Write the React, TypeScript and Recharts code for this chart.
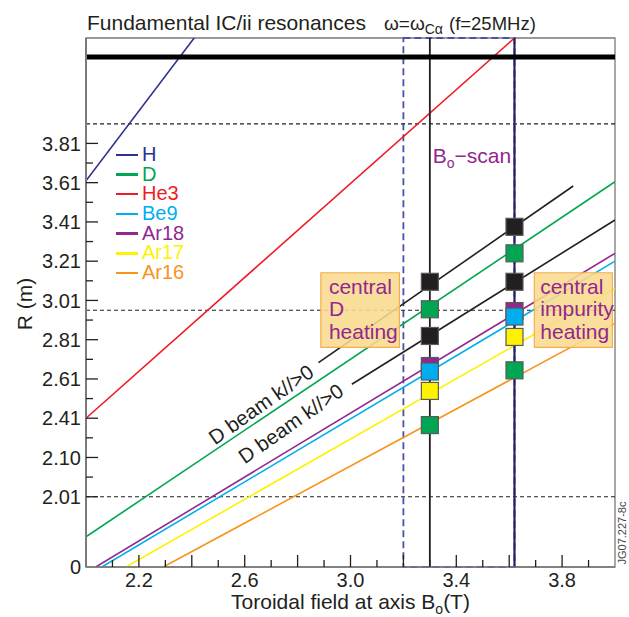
import React from 'react';
import {
  ComposedChart, Line, Scatter, XAxis, YAxis,
  ReferenceLine, ReferenceArea, ReferenceDot, Legend,
} from 'recharts';

const FONT = '"Liberation Sans", Arial, Helvetica, sans-serif';
const INK = '#231f20';
const PURPLE = '#92278f';
const FRAME = '#7a7a7a';

// ---- axes ----
const xDomain = [2.0, 4.0];
const yDomain = [1.642, 4.337];
const xMinorTicks = [2.1, 2.3, 2.5, 2.7, 2.9, 3.1, 3.3, 3.5, 3.7, 3.9];
const xMajorTicks = [2.2, 2.4, 2.6, 2.8, 3.0, 3.2, 3.4, 3.6, 3.8];
const xLabelTicks = [2.2, 2.6, 3.0, 3.4, 3.8];
const xTickLabels = ['2.2', '2.6', '3.0', '3.4', '3.8'];
const yMajorTicks = [1.642, 2.0, 2.2, 2.4, 2.6, 2.8, 3.0, 3.2, 3.4, 3.6, 3.8];
const yTickLabels = ['0', '2.01', '2.10', '2.41', '2.61', '2.81', '3.01', '3.21', '3.41', '3.61', '3.81'];
const yMinorTicks = [2.1, 2.3, 2.5, 2.7, 2.9, 3.1, 3.3, 3.5, 3.7];

// ---- resonance lines: B0 (T) -> R (m) ----
const lineH = [{ x: 2.0, y: 3.61 }, { x: 2.45, y: 4.41 }];
const lineD = [{ x: 2.0, y: 1.796 }, { x: 4.0, y: 3.605 }];
const lineHe3 = [{ x: 2.0, y: 2.4 }, { x: 3.62, y: 4.337 }];
const lineBe9 = [{ x: 2.06, y: 1.642 }, { x: 4.0, y: 3.2 }];
const lineAr18 = [{ x: 2.037, y: 1.642 }, { x: 4.0, y: 3.24 }];
const lineAr17 = [{ x: 2.151, y: 1.642 }, { x: 4.0, y: 3.062 }];
const lineAr16 = [{ x: 2.292, y: 1.642 }, { x: 4.0, y: 2.883 }];
const beamUpper = [{ x: 2.879, y: 2.683 }, { x: 3.842, y: 3.583 }];
const beamLower = [{ x: 3.005, y: 2.573 }, { x: 4.0, y: 3.41 }];

const speciesNames = ['H', 'D', 'He3', 'Be9', 'Ar18', 'Ar17', 'Ar16'];
const speciesColors = ['#2e3192', '#00a651', '#ed1c24', '#00aeef', '#92278f', '#fff200', '#f7941d'];
const speciesLines = [lineH, lineD, lineHe3, lineBe9, lineAr18, lineAr17, lineAr16];

// ---- B0-scan squares ----
const scanB = [3.3, 3.62];
const sqBlackUpper = [3.095, 3.375];
const sqGreenD = [2.955, 3.24];
const sqBlackLower = [2.819, 3.095];
const sqPurple = [2.666, 2.946];
const sqCyan = [2.638, 2.918];
const sqYellow = [2.539, 2.814];
const sqGreenLow = [2.365, 2.644];
const squareSets = [sqBlackUpper, sqGreenD, sqBlackLower, sqPurple, sqCyan, sqYellow, sqGreenLow];
const squareColors = ['#231f20', '#00a651', '#231f20', '#92278f', '#00aeef', '#fff200', '#00a651'];

// ---- reference geometry ----
const dashedR = [2.0, 2.95, 3.9];
const wallR = 4.24;
const scanStart = 3.2;
const scanMid = 3.3;
const scanEnd = 3.62;
const boxY = [2.761, 3.141];
const boxCentralD = [2.888, 3.185];
const boxImpurity = [3.695, 3.99];
const boxDText = ['central', 'D', 'heating'];
const boxImpText = ['central', 'impurity', 'heating'];
const scanLabelPos = { x: 3.311, y: 3.7 };
const beamLabelUpper = { x: 2.661, y: 2.471 };
const beamLabelLower = { x: 2.774, y: 2.374 };

const near = (a: number, b: number) => Math.abs(a - b) < 1e-6;

const XTick = (props: any) => {
  const { x, y, payload } = props;
  const v = payload.value;
  const major = xMajorTicks.some((t) => near(t, v));
  const li = xLabelTicks.findIndex((t) => near(t, v));
  return (
    <g>
      <line x1={x} x2={x} y1={y} y2={y - (major ? 12 : 7)} stroke={INK} strokeWidth={1.3} />
      {li >= 0 && (
        <text x={x} y={y + 20} textAnchor="middle" fontSize={20} fontFamily={FONT} fill={INK}>
          {xTickLabels[li]}
        </text>
      )}
    </g>
  );
};

const YTick = (props: any) => {
  const { x, y, payload } = props;
  const v = payload.value;
  const mi = yMajorTicks.findIndex((t) => near(t, v));
  const bottom = near(v, yDomain[0]);
  const len = mi >= 0 ? 12 : 7;
  return (
    <g>
      {!bottom && <line x1={x} x2={x + len} y1={y} y2={y} stroke={INK} strokeWidth={1.3} />}
      {mi >= 0 && (
        <text x={x - 5} y={y} dy="0.36em" textAnchor="end" fontSize={20} fontFamily={FONT} fill={INK}>
          {yTickLabels[mi]}
        </text>
      )}
    </g>
  );
};

const SquareShape = (props: any) => {
  const { cx, cy, fill } = props;
  if (cx == null || cy == null) return null;
  return <rect x={cx - 8.5} y={cy - 8.5} width={17} height={17} fill={fill} stroke="#5a5a5a" strokeWidth={1.2} />;
};

const boxLabel = (lines: string[], pad: number) => (p: any) => {
  const vb = p.viewBox || {};
  return (
    <g>
      {lines.map((t, i) => (
        <text key={i} x={vb.x + pad} y={vb.y + 21.5 + i * 22.2} fontSize={21} fontFamily={FONT} fill={PURPLE}>
          {t}
        </text>
      ))}
    </g>
  );
};

const beamLabel = (p: any) => {
  const vb = p.viewBox || {};
  const cx = vb.x + (vb.width || 0) / 2;
  const cy = vb.y + (vb.height || 0) / 2;
  return (
    <text x={cx} y={cy} dy="0.36em" textAnchor="middle" fontSize={20.5} fontFamily={FONT} fill={INK}
      transform={`rotate(-35, ${cx}, ${cy})`}>
      {'D beam k//>0'}
    </text>
  );
};

const scanLabel = (p: any) => {
  const vb = p.viewBox || {};
  return (
    <text x={vb.x} y={vb.y} fontSize={21} fontFamily={FONT} fill={PURPLE}>
      B<tspan fontSize={14} dy={5}>o</tspan><tspan dy={-5}>{'\u2212scan'}</tspan>
    </text>
  );
};

const yAxisLabel = (p: any) => {
  const vb = p.viewBox || {};
  const cx = vb.x + 24;
  const cy = vb.y + vb.height / 2 + 1.5;
  return (
    <text x={cx} y={cy} dy="0.36em" textAnchor="middle" fontSize={21} fontFamily={FONT} fill={INK}
      transform={`rotate(-90, ${cx}, ${cy})`}>
      R (m)
    </text>
  );
};

const xAxisLabel = (p: any) => {
  const vb = p.viewBox || {};
  return (
    <text x={vb.x + vb.width / 2} y={vb.y + 42} textAnchor="middle" fontSize={21} fontFamily={FONT} fill={INK}>
      Toroidal field at axis B<tspan fontSize={14} dy={5}>o</tspan><tspan dy={-5}>(T)</tspan>
    </text>
  );
};

const LegendBox = () => (
  <div style={{ fontFamily: FONT, fontSize: 20 }}>
    {speciesNames.map((n, i) => (
      <div key={n} style={{ display: 'flex', alignItems: 'center', height: 19.7, lineHeight: '19.7px', whiteSpace: 'nowrap' }}>
        <span style={{ display: 'inline-block', width: 22, height: 2.5, background: speciesColors[i], marginRight: 4 }} />
        <span style={{ color: speciesColors[i] }}>{n}</span>
      </div>
    ))}
  </div>
);

export default function App() {
  return (
    <div style={{ position: 'absolute', left: 0, top: 0, width: 629, height: 617, background: '#fff' }}>
      <ComposedChart width={629} height={617} margin={{ top: 38, right: 14, left: 0, bottom: 0 }}>
        <XAxis
          type="number" dataKey="x" domain={xDomain} allowDataOverflow
          ticks={[...xMinorTicks, ...xMajorTicks]} interval={0}
          tickSize={0} tickMargin={0} tickLine={false} tick={<XTick />}
          axisLine={{ stroke: FRAME, strokeWidth: 1.6 }} height={50}
          label={xAxisLabel}
        />
        <YAxis
          type="number" domain={yDomain} allowDataOverflow
          ticks={[...yMajorTicks, ...yMinorTicks]} interval={0}
          tickSize={0} tickMargin={0} tickLine={false} tick={<YTick />}
          axisLine={{ stroke: FRAME, strokeWidth: 2 }} width={86}
          label={yAxisLabel}
        />
        <ReferenceArea x1={xDomain[0]} x2={xDomain[1]} y1={yDomain[0]} y2={yDomain[1]}
          fill="none" stroke={FRAME} strokeWidth={1.3} />
        {dashedR.map((r) => (
          <ReferenceLine key={r} y={r} stroke={INK} strokeWidth={1.2} strokeDasharray="4 3" />
        ))}
        {speciesLines.map((d, i) => (
          <Line key={speciesNames[i]} data={d} dataKey="y" name={speciesNames[i]} type="linear"
            stroke={speciesColors[i]} strokeWidth={1.6} dot={false} activeDot={false}
            isAnimationActive={false} legendType="none" />
        ))}
        <Line data={beamUpper} dataKey="y" type="linear" stroke={INK} strokeWidth={1.6}
          dot={false} activeDot={false} isAnimationActive={false} legendType="none" />
        <Line data={beamLower} dataKey="y" type="linear" stroke={INK} strokeWidth={1.6}
          dot={false} activeDot={false} isAnimationActive={false} legendType="none" />
        <ReferenceArea x1={scanStart} x2={scanEnd} y1={yDomain[0]} y2={yDomain[1]}
          fill="none" stroke="#4a4fae" strokeWidth={1.8} strokeDasharray="7 4" />
        <ReferenceLine x={scanMid} stroke={INK} strokeWidth={1.8} />
        <ReferenceLine x={scanEnd} stroke="#262262" strokeWidth={2.2} />
        <ReferenceLine y={wallR} stroke="#000" strokeWidth={5} />
        <ReferenceArea x1={boxCentralD[0]} x2={boxCentralD[1]} y1={boxY[0]} y2={boxY[1]}
          fill="#f9db8e" fillOpacity={0.88} stroke="#f5ad4b" strokeWidth={1.2} zIndex={450}
          label={boxLabel(boxDText, 8)} />
        <ReferenceArea x1={boxImpurity[0]} x2={boxImpurity[1]} y1={boxY[0]} y2={boxY[1]}
          fill="#f9db8e" fillOpacity={0.88} stroke="#f5ad4b" strokeWidth={1.2} zIndex={450}
          label={boxLabel(boxImpText, 6)} />
        {squareSets.map((set, i) => (
          <Scatter key={'sq' + i} data={scanB.map((b, j) => ({ x: b, y: set[j] }))} dataKey="y"
            fill={squareColors[i]} shape={SquareShape} isAnimationActive={false} legendType="none" />
        ))}
        <ReferenceDot x={scanLabelPos.x} y={scanLabelPos.y} r={0} fill="none" stroke="none" label={scanLabel} />
        <ReferenceDot x={beamLabelUpper.x} y={beamLabelUpper.y} r={0} fill="none" stroke="none" label={beamLabel} />
        <ReferenceDot x={beamLabelLower.x} y={beamLabelLower.y} r={0} fill="none" stroke="none" label={beamLabel} />
        <Legend layout="vertical" align="center" verticalAlign="middle"
          wrapperStyle={{ left: 116, top: 145, width: 120 }} content={() => <LegendBox />} />
      </ComposedChart>
      <svg width={629} height={617} style={{ position: 'absolute', left: 0, top: 0, pointerEvents: 'none' }}>
        <text x={87} y={29.5} fontSize={21} fontFamily={FONT} fill={INK}>
          Fundamental IC/ii resonances
          <tspan dx={18} fontSize={19}>{'\u03c9=\u03c9'}</tspan>
          <tspan fontSize={14} dy={4}>{'C\u03b1'}</tspan>
          <tspan dy={-4} dx={6} fontSize={18.5}>(f=25MHz)</tspan>
        </text>
        <text x={626} y={533} fontSize={11} fontFamily={FONT} fill="#444" textAnchor="middle"
          transform="rotate(-90, 626, 533)">
          JG07.227-8c
        </text>
      </svg>
    </div>
  );
}
